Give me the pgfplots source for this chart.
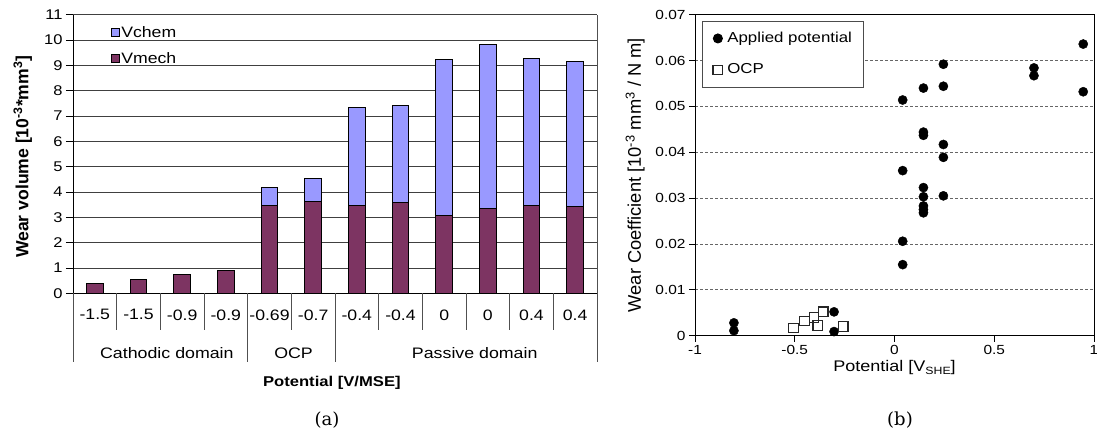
\documentclass[border=0pt]{standalone}
\usepackage{fontspec}
\setmainfont[FakeStretch=1.17]{Liberation Sans}
\newfontfamily\rotsans{Liberation Sans}
\newfontfamily\capserif{DejaVu Serif}
\usepackage{pgfplots}
\pgfplotsset{compat=1.18}
\definecolor{vchem}{RGB}{153,153,255}
\definecolor{vmech}{RGB}{125,52,98}
\definecolor{sepc}{RGB}{80,80,80}
\begin{document}
\begin{tikzpicture}
\path[use as bounding box] (0,0) rectangle (1097pt,437pt);
% ---------------- (a) ----------------
\begin{axis}[
  at={(73pt,143.7pt)}, anchor=south west,
  scale only axis, width=524pt, height=278.6pt,
  xmin=0.5, xmax=12.5, ymin=0, ymax=11,
  ybar stacked, bar width=16.7pt,
  clip=false,
  axis x line*=bottom, axis y line*=left,
  axis line style={-, black, line width=0.9pt},
  ytick={0,1,...,11},
  ymajorgrids, grid style={black!75, line width=0.9pt},
  tick align=outside, major tick length=7pt,
  ytick style={black, line width=0.9pt},
  xtick={1,...,12},
  xticklabels={-1.5,-1.5,-0.9,-0.9,-0.69,-0.7,-0.4,-0.4,0,0,0.4,0.4},
  xtick style={draw=none},
  xticklabel style={anchor=center, yshift=-14.5pt, font=\fontsize{15.1}{17}\selectfont},
  yticklabel style={font=\fontsize{14.1}{16}\selectfont},
  /pgf/number format/assume math mode=true,
  xlabel={\bfseries Potential [V/MSE]},
  xlabel style={at={(axis description cs:0.494,-0.322)}, anchor=center, font=\fontsize{14.2}{16}\selectfont},
  ylabel={\rotsans\bfseries Wear volume [10\textsuperscript{-3}*mm\textsuperscript{3}]},
  ylabel style={at={(axis description cs:-0.096,0.49)}, anchor=center, rotate=0, font=\fontsize{17.6}{20}\selectfont},
  reverse legend,
  legend image code/.code={\draw[#1,draw=black,line width=0.6pt] (0pt,-3.85pt) rectangle (7.7pt,3.85pt);},
  legend style={at={(axis description cs:0.073,0.962)}, anchor=north west, draw=none, fill=none,
    font=\fontsize{15.1}{17}\selectfont, row sep=12pt, inner sep=0pt,
    nodes={inner sep=1.5pt, text height=11pt, text depth=0pt}},
  legend cell align=left,
]
\addplot[fill=vmech, draw=black, line width=0.8pt] coordinates {
 (1,0.38) (2,0.55) (3,0.75) (4,0.92) (5,3.47) (6,3.63)
 (7,3.47) (8,3.60) (9,3.09) (10,3.36) (11,3.47) (12,3.43)};
\addlegendentry{Vmech}
\addplot[fill=vchem, draw=black, line width=0.8pt] coordinates {
 (1,0) (2,0) (3,0) (4,0) (5,0.70) (6,0.91)
 (7,3.87) (8,3.82) (9,6.15) (10,6.45) (11,5.81) (12,5.73)};
\addlegendentry{Vchem}
\pgfplotsinvokeforeach{1.5,2.5,3.5,5.5,7.5,8.5,9.5,10.5,11.5}{
  \draw[sepc, line width=0.9pt] (axis cs:#1,0) -- ([yshift=-37pt]axis cs:#1,0);
}
\pgfplotsinvokeforeach{0.5,4.5,6.5,12.5}{
  \draw[sepc, line width=0.9pt] (axis cs:#1,0) -- ([yshift=-69pt]axis cs:#1,0);
}
\draw[sepc, line width=0.9pt] (axis cs:12.5,0) -- (axis cs:12.5,11);
\node[font=\fontsize{15.2}{17}\selectfont] at ([yshift=-59.5pt]axis cs:2.65,0) {Cathodic domain};
\node[font=\fontsize{15.2}{17}\selectfont] at ([yshift=-59.5pt]axis cs:5.55,0) {OCP};
\node[font=\fontsize{15.2}{17}\selectfont] at ([yshift=-59.5pt]axis cs:9.7,0) {Passive domain};
\end{axis}
% ---------------- (b) ----------------
\begin{axis}[
  at={(695pt,101.3pt)}, anchor=south west,
  scale only axis, width=399pt, height=321pt,
  xmin=-1, xmax=1, ymin=0, ymax=0.07,
  xtick={-1,-0.5,0,0.5,1}, xticklabels={-1,-0.5,0,0.5,1},
  ytick={0,0.01,0.02,0.03,0.04,0.05,0.06,0.07},
  yticklabels={0,0.01,0.02,0.03,0.04,0.05,0.06,0.07},
  scaled y ticks=false,
  ymajorgrids, grid style={black!60, line width=0.7pt, dash pattern=on 3pt off 2pt},
  axis line style={black, line width=1pt},
  tick align=outside, tick pos=left, major tick length=6pt,
  tick style={black, line width=0.8pt},
  ticklabel style={font=\fontsize{13.2}{15}\selectfont},
  xlabel={Potential [V\raisebox{-0.35ex}{\fontsize{10.5}{12}\selectfont SHE}]},
  xlabel style={font=\fontsize{15.4}{18}\selectfont, yshift=1pt},
  ylabel={\rotsans Wear Coefficient [10\textsuperscript{-3} mm\textsuperscript{3} / N m]},
  ylabel style={font=\fontsize{18.3}{20}\selectfont, at={(axis description cs:-0.150,0.5)}, anchor=center},
  legend image code/.code={\path[draw=none,fill=none] (0pt,-1pt) rectangle (14pt,1pt); \draw[#1] plot coordinates {(6pt,0pt)};},
  legend style={at={(axis description cs:0.0175,0.981)}, anchor=north west, draw=black!70, fill=white,
    line width=0.8pt, font=\fontsize{14.4}{17}\selectfont, row sep=15pt, inner xsep=9.5pt, inner ysep=9pt,
    nodes={inner sep=1.5pt, text height=10.5pt, text depth=3pt}},
  legend cell align=left,
]
\addplot[only marks, mark=*, mark size=4.6pt, black] table {
x y
0.946 0.0636
0.946 0.0532
0.699 0.0584
0.699 0.0567
0.245 0.0592
0.245 0.0544
0.245 0.0417
0.245 0.0389
0.245 0.0305
0.145 0.0540
0.145 0.0444
0.145 0.0437
0.145 0.0323
0.145 0.0303
0.145 0.0283
0.145 0.0275
0.145 0.0268
0.041 0.0514
0.041 0.0360
0.041 0.0206
0.041 0.0155
-0.805 0.0028
-0.805 0.0011
-0.303 0.0052
-0.303 0.0009
};
\addlegendentry{Applied potential}
\addplot[only marks, mark=square, mark size=4.8pt, black!85, mark options={line width=1.2pt}] table {
x y
-0.507 0.0017
-0.452 0.0032
-0.404 0.0040
-0.385 0.0022
-0.357 0.0052
-0.257 0.0020
};
\addlegendentry{OCP}
\end{axis}
\node[font=\capserif\fontsize{18}{22}\selectfont] at (327pt,17pt) {(a)};
\node[font=\capserif\fontsize{18}{22}\selectfont] at (900pt,17pt) {(b)};
\end{tikzpicture}
\end{document}
